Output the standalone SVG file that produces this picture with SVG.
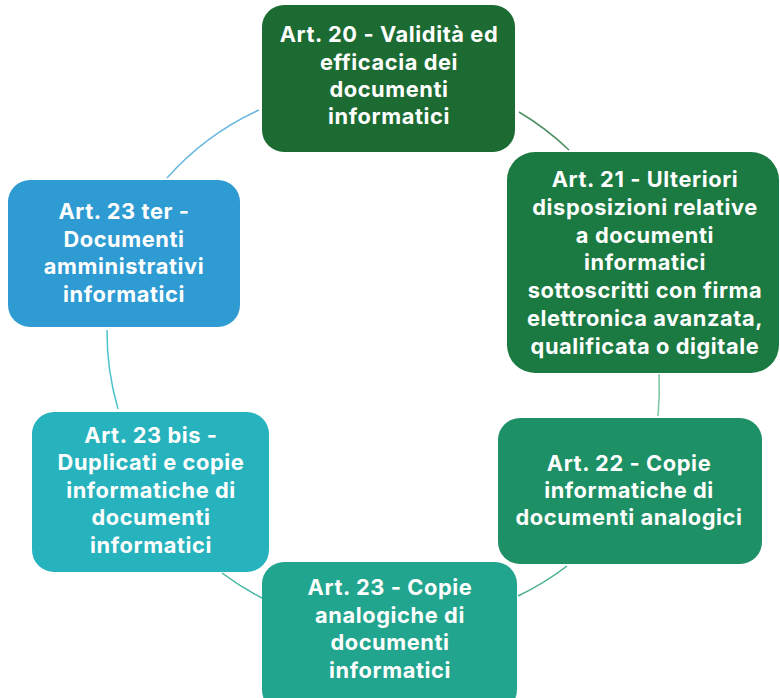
<svg xmlns="http://www.w3.org/2000/svg" width="780" height="698" viewBox="0 0 780 698">
  <style>
    .box { stroke: none; }
    .lbl { font-family: Inter, "Open Sans", "Liberation Sans", sans-serif; font-weight: 700; font-size: 21.8px; letter-spacing: 0.6px; fill: #ffffff; text-anchor: middle; }
    .arc { fill: none; stroke-width: 1.5; }
  </style>
  <rect width="780" height="698" fill="#ffffff"/>

  <!-- connectors: arcs of one circle joining the boxes clockwise -->
  <g id="connectors">
    <path class="arc" stroke="#4f8f63" d="M519,112 A276,276 0 0 1 569,150"/>
    <path class="arc" stroke="#7cc4a0" d="M659,374 A276,276 0 0 1 658,416"/>
    <path class="arc" stroke="#45ad8a" d="M567,566 A276,276 0 0 1 518,596"/>
    <path class="arc" stroke="#3fb5a0" d="M262,598 A276,276 0 0 1 222,573"/>
    <path class="arc" stroke="#4cc3cc" d="M118,409 A276,276 0 0 1 107,330"/>
    <path class="arc" stroke="#6bb9e0" d="M167,178 A276,276 0 0 1 259,110"/>
  </g>

  <g id="art20">
    <rect class="box" x="262" y="5" width="253" height="147" rx="22" fill="#1c6b32"/>
    <text class="lbl" x="389" y="42">Art. 20 - Validità ed</text>
    <text class="lbl" x="389" y="70">efficacia dei</text>
    <text class="lbl" x="389" y="97">documenti</text>
    <text class="lbl" x="389" y="124">informatici</text>
  </g>

  <g id="art21">
    <rect class="box" x="507" y="152" width="272" height="221" rx="28" fill="#1a7a42"/>
    <text class="lbl" x="645" y="187">Art. 21 - Ulteriori</text>
    <text class="lbl" x="645" y="215">disposizioni relative</text>
    <text class="lbl" x="645" y="243">a documenti</text>
    <text class="lbl" x="645" y="270">informatici</text>
    <text class="lbl" x="645" y="298">sottoscritti con firma</text>
    <text class="lbl" x="645" y="326">elettronica avanzata,</text>
    <text class="lbl" x="645" y="354">qualificata o digitale</text>
  </g>

  <g id="art22">
    <rect class="box" x="498" y="418" width="264" height="146" rx="22" fill="#1d9065"/>
    <text class="lbl" x="629" y="471">Art. 22 - Copie</text>
    <text class="lbl" x="629" y="498">informatiche di</text>
    <text class="lbl" x="629" y="525">documenti analogici</text>
  </g>

  <g id="art23">
    <rect class="box" x="262" y="562" width="255" height="150" rx="22" fill="#22a58e"/>
    <text class="lbl" x="390" y="595">Art. 23 - Copie</text>
    <text class="lbl" x="390" y="623">analogiche di</text>
    <text class="lbl" x="390" y="650">documenti</text>
    <text class="lbl" x="390" y="678">informatici</text>
  </g>

  <g id="art23bis">
    <rect class="box" x="32" y="412" width="237" height="160" rx="22" fill="#27b3bd"/>
    <text class="lbl" x="151" y="443">Art. 23 bis -</text>
    <text class="lbl" x="151" y="470">Duplicati e copie</text>
    <text class="lbl" x="151" y="498">informatiche di</text>
    <text class="lbl" x="151" y="525">documenti</text>
    <text class="lbl" x="151" y="553">informatici</text>
  </g>

  <g id="art23ter">
    <rect class="box" x="8" y="180" width="232" height="147" rx="22" fill="#2f9bd3"/>
    <text class="lbl" x="124" y="219">Art. 23 ter -</text>
    <text class="lbl" x="124" y="247">Documenti</text>
    <text class="lbl" x="124" y="274">amministrativi</text>
    <text class="lbl" x="124" y="302">informatici</text>
  </g>
</svg>
